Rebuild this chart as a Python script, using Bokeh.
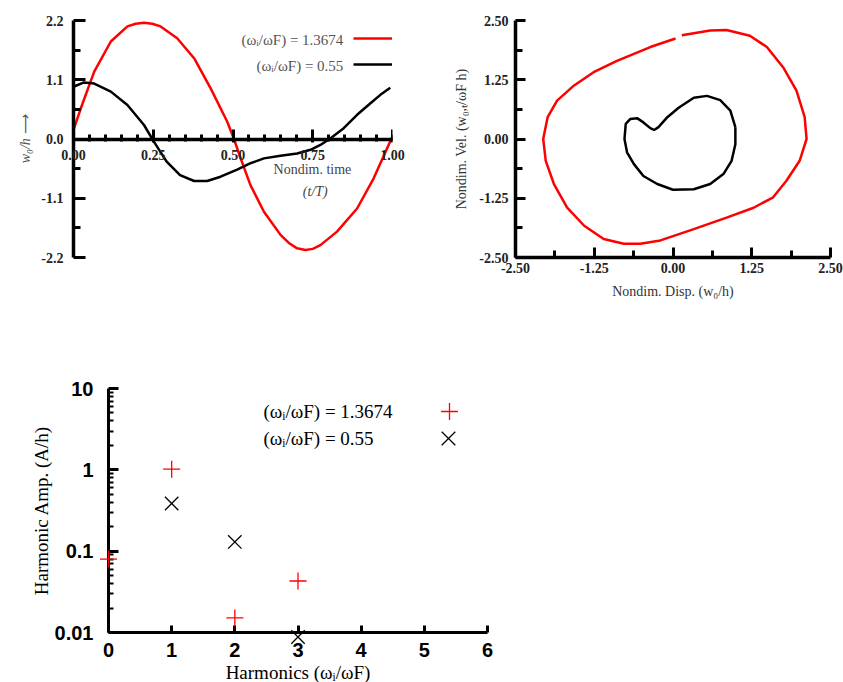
from bokeh.plotting import figure
from bokeh.layouts import column, row
from bokeh.models import (FixedTicker, NumeralTickFormatter, Label, Legend, LegendItem, Range1d,
                          CustomJSTickFormatter)
from bokeh.core.properties import value
from bokeh.embed import file_html
from bokeh.resources import INLINE

SERIF = "Liberation Serif"
SANS = "Liberation Sans"

# ---------------- data ----------------
freq_labels = ["1.3674", "0.55"]

# time axis ticks of the top-left panel
time_ticks = [0.0, 0.25, 0.5, 0.75, 1.0]
time_tick_labels = ["0.00", "0.25", "0.50", "0.75", "1.00"]

# time history (t/T, w0/h)
t_red = [0.0, 0.023, 0.065, 0.117, 0.169, 0.195, 0.221, 0.247, 0.273, 0.325, 0.378, 0.430,
         0.482, 0.503, 0.524, 0.555, 0.597, 0.649, 0.675, 0.701, 0.727, 0.750, 0.774, 0.826,
         0.889, 0.941, 1.0]
w_red = [0.17, 0.57, 1.25, 1.81, 2.09, 2.14, 2.16, 2.14, 2.09, 1.87, 1.50, 0.94,
         0.32, 0.0, -0.36, -0.86, -1.35, -1.78, -1.93, -2.03, -2.06, -2.04, -1.97, -1.72,
         -1.29, -0.73, 0.05]

t_blk = [0.0, 0.033, 0.065, 0.117, 0.169, 0.221, 0.252, 0.292, 0.334, 0.378, 0.419, 0.461,
         0.513, 0.555, 0.597, 0.649, 0.701, 0.743, 0.774, 0.805, 0.847, 0.889, 0.930, 0.962, 0.993]
w_blk = [0.97, 1.05, 1.03, 0.88, 0.63, 0.26, -0.05, -0.42, -0.67, -0.78, -0.78, -0.70,
         -0.57, -0.45, -0.36, -0.31, -0.27, -0.20, -0.11, 0.01, 0.20, 0.45, 0.66, 0.82, 0.95]

# phase plane (disp, vel)
disp_red = [0.14, 0.59, 0.85, 1.22, 1.49, 1.75, 1.96, 2.09, 2.12, 2.01, 1.80, 1.59, 1.28, 0.85,
            0.33, -0.20, -0.52, -0.78, -1.10, -1.41, -1.68, -1.89, -2.02, -2.06, -1.99, -1.84,
            -1.57, -1.26, -0.89, -0.36, 0.04]
vel_red = [2.19, 2.29, 2.30, 2.18, 1.94, 1.51, 1.02, 0.46, 0.0, -0.46, -0.88, -1.23, -1.45, -1.66,
           -1.90, -2.14, -2.21, -2.21, -2.11, -1.83, -1.45, -0.95, -0.46, 0.0, 0.46, 0.81,
           1.13, 1.41, 1.65, 1.94, 2.12]

disp_blk = [0.99, 0.91, 0.75, 0.54, 0.33, 0.09, -0.09, -0.23, -0.30, -0.36, -0.47, -0.57, -0.68,
            -0.75, -0.77, -0.73, -0.62, -0.47, -0.25, 0.0, 0.33, 0.59, 0.80, 0.93, 0.99, 0.99]
vel_blk = [0.25, 0.60, 0.82, 0.91, 0.87, 0.66, 0.46, 0.25, 0.19, 0.23, 0.35, 0.44, 0.42,
           0.32, 0.0, -0.28, -0.53, -0.78, -0.95, -1.07, -1.06, -0.95, -0.74, -0.46, -0.11, 0.25]

# harmonic amplitudes
harm_red = [0, 1, 2, 3]
amp_red = [0.080, 1.02, 0.0151, 0.043]
harm_blk = [1, 2, 3]
amp_blk = [0.385, 0.130, 0.0088]

# ---------------- helpers ----------------
def clean(p):
    p.outline_line_color = None
    p.xgrid.visible = False
    p.ygrid.visible = False
    p.background_fill_color = "white"
    p.border_fill_color = "white"


def legend_glyph(p, renderer, x, y, w, h):
    lg = Legend(items=[LegendItem(label=value(" "), renderers=[renderer])], location=(x, y),
                glyph_width=w, glyph_height=h, label_width=1, label_height=1,
                label_text_font_size="1px", label_standoff=0, padding=0, margin=0, spacing=0,
                border_line_color=None, background_fill_alpha=0)
    p.add_layout(lg)


def style_top_axis(ax, lw=3.5):
    ax.axis_line_width = lw
    ax.axis_line_color = "black"
    ax.major_tick_line_width = 3
    ax.minor_tick_line_width = 3
    ax.major_tick_line_color = "black"
    ax.minor_tick_line_color = "black"
    ax.major_label_text_font = SERIF
    ax.major_label_text_font_style = "bold"
    ax.major_label_text_font_size = "14px"
    ax.major_label_text_color = "#222222"
    ax.axis_label_text_font = SERIF
    ax.axis_label_text_font_style = "normal"
    ax.axis_label_text_font_size = "14px"
    ax.axis_label_text_color = "#333333"


# ---------------- top-left: time history ----------------
p1 = figure(width=420, height=305, x_range=Range1d(0, 1), y_range=Range1d(-2.2, 2.2),
            output_backend="svg", toolbar_location=None,
            min_border_left=73, min_border_right=28, min_border_top=20, min_border_bottom=48)
clean(p1)
r1 = p1.line(t_red, w_red, line_color="#ff0000", line_width=2.5)
r2 = p1.line(t_blk, w_blk, line_color="black", line_width=2.5)

xa = p1.xaxis[0]
style_top_axis(xa)
xa.fixed_location = 0
xa.ticker = FixedTicker(ticks=time_ticks, minor_ticks=[i * 0.05 for i in range(21)])
xa.formatter = CustomJSTickFormatter(code="return ''")
xa.major_tick_in = 10
xa.major_tick_out = 3
xa.minor_tick_in = 5
xa.minor_tick_out = 2
# tick labels drawn as an overlay text glyph so the end labels are not cut at the frame edge
tl_r = p1.text(x=time_ticks, y=[-0.30] * len(time_ticks), text=time_tick_labels,
               text_align="center", text_baseline="middle", text_font=value(SERIF),
               text_font_style="bold", text_font_size="14px", text_color="#222222")
tl_r.level = "overlay"

ya = p1.yaxis[0]
style_top_axis(ya)
ya.ticker = FixedTicker(ticks=[-2.2, -1.1, 0, 1.1, 2.2], minor_ticks=[-1.65, -0.55, 0.55, 1.65])
ya.formatter = NumeralTickFormatter(format="0.0")
ya.major_tick_in = 12
ya.major_tick_out = 0
ya.minor_tick_in = 7
ya.minor_tick_out = 0
ya.major_label_standoff = 10
ya.axis_label = "w\u2080/h \u27f6"
ya.axis_label_text_font_style = "italic"
ya.axis_label_text_color = "#555555"
ya.axis_label_standoff = 5

for txt, yy in [("(\u03c9\u1d62/\u03c9F) = " + freq_labels[0], 1.84),
                ("(\u03c9\u1d62/\u03c9F) = " + freq_labels[1], 1.357)]:
    p1.add_layout(Label(x=0.846, y=yy, text=txt, text_align="right", text_baseline="middle",
                        text_font=SERIF, text_font_size="15px", text_color="#555555"))
legend_glyph(p1, r1, 280, 209, 42, 20)
legend_glyph(p1, r2, 280, 183, 42, 20)

p1.add_layout(Label(x=0.749, y=-0.56, text="Nondim. time", text_align="center",
                    text_baseline="middle", text_font=SERIF, text_font_size="14px",
                    text_color="#444444"))
p1.add_layout(Label(x=0.758, y=-0.98, text="(t/T)", text_align="center",
                    text_baseline="middle", text_font=SERIF, text_font_size="14px",
                    text_font_style="italic", text_color="#444444"))

# ---------------- top-right: phase plane ----------------
p2 = figure(width=423, height=305, x_range=Range1d(-2.5, 2.5), y_range=Range1d(-2.5, 2.5),
            output_backend="svg", toolbar_location=None,
            min_border_left=95, min_border_right=13, min_border_top=20, min_border_bottom=48)
clean(p2)
p2.line(disp_red, vel_red, line_color="#ff0000", line_width=2.5)
p2.line(disp_blk, vel_blk, line_color="black", line_width=2.5)

major25 = [-2.5, -1.25, 0, 1.25, 2.5]
minor25 = [-1.875, -0.625, 0.625, 1.875]
for ax in (p2.xaxis[0], p2.yaxis[0]):
    style_top_axis(ax)
    ax.ticker = FixedTicker(ticks=major25, minor_ticks=minor25)
    ax.formatter = NumeralTickFormatter(format="0.00")
    ax.major_tick_in = 10
    ax.major_tick_out = 0
    ax.minor_tick_in = 7
    ax.minor_tick_out = 0
p2.xaxis[0].major_label_standoff = 5
p2.xaxis[0].axis_label = "Nondim. Disp. (w\u2080/h)"
p2.xaxis[0].axis_label_standoff = 8
p2.yaxis[0].major_label_standoff = 7
p2.yaxis[0].axis_label = "Nondim. Vel. (w\u2080,\u209c/\u03c9F h)"
p2.yaxis[0].axis_label_standoff = 7

# ---------------- bottom: harmonic amplitudes ----------------
p3 = figure(width=500, height=377, x_range=Range1d(0, 6), y_range=Range1d(0.01, 10),
            y_axis_type="log", output_backend="svg", toolbar_location=None,
            min_border_left=108, min_border_right=13, min_border_top=83, min_border_bottom=50)
clean(p3)
s1 = p3.scatter(harm_red, amp_red, marker="cross", size=17, line_color="#ff0000", line_width=1.3)
s2 = p3.scatter(harm_blk, amp_blk, marker="x", size=19, line_color="black", line_width=1.3)
s1.level = "overlay"
s2.level = "overlay"

bx = p3.xaxis[0]
by = p3.yaxis[0]
for ax in (bx, by):
    ax.axis_line_width = 3
    ax.major_tick_line_width = 3
    ax.minor_tick_line_width = 2
    ax.major_label_text_font = SANS
    ax.major_label_text_font_style = "bold"
    ax.major_label_text_font_size = "20px"
    ax.major_label_text_color = "black"
    ax.axis_label_text_font = SERIF
    ax.axis_label_text_font_style = "normal"
    ax.axis_label_text_font_size = "19px"
    ax.axis_label_text_color = "black"
    ax.major_tick_out = 0
    ax.minor_tick_out = 0

bx.ticker = FixedTicker(ticks=[0, 1, 2, 3, 4, 5, 6], minor_ticks=[])
bx.major_tick_in = 7
bx.major_label_standoff = 10
# axis title drawn as an overlay text glyph below the frame (keeps the frame at full height)
xt_r = p3.text(x=[3], y=[0.00322], text=["Harmonics (\u03c9\u1d62/\u03c9F)"], text_align="center",
               text_baseline="middle", text_font=value(SERIF), text_font_size="19px",
               text_color="black")
xt_r.level = "overlay"

by.ticker = FixedTicker(ticks=[0.01, 0.1, 1, 10],
                        minor_ticks=[m * 10.0 ** e for e in (-2, -1, 0) for m in range(2, 10)])
by.formatter = NumeralTickFormatter(format="0.[00]")
by.major_tick_in = 10
by.minor_tick_in = 5
by.major_label_standoff = 15
by.axis_label = "Harmonic Amp. (A/h)"
by.axis_label_standoff = 0

for txt, yy in [("(\u03c9\u1d62/\u03c9F) = " + freq_labels[0], 5.21),
                ("(\u03c9\u1d62/\u03c9F) = " + freq_labels[1], 2.45)]:
    p3.add_layout(Label(x=2.454, y=yy, text=txt, text_align="left", text_baseline="middle",
                        text_font=SERIF, text_font_size="19px", text_color="black"))
legend_glyph(p3, s1, 320, 200, 42, 42)
legend_glyph(p3, s2, 316, 170, 48, 48)

layout = column(row(p1, p2), p3)
open("out.html", "w").write(file_html(layout, INLINE))
